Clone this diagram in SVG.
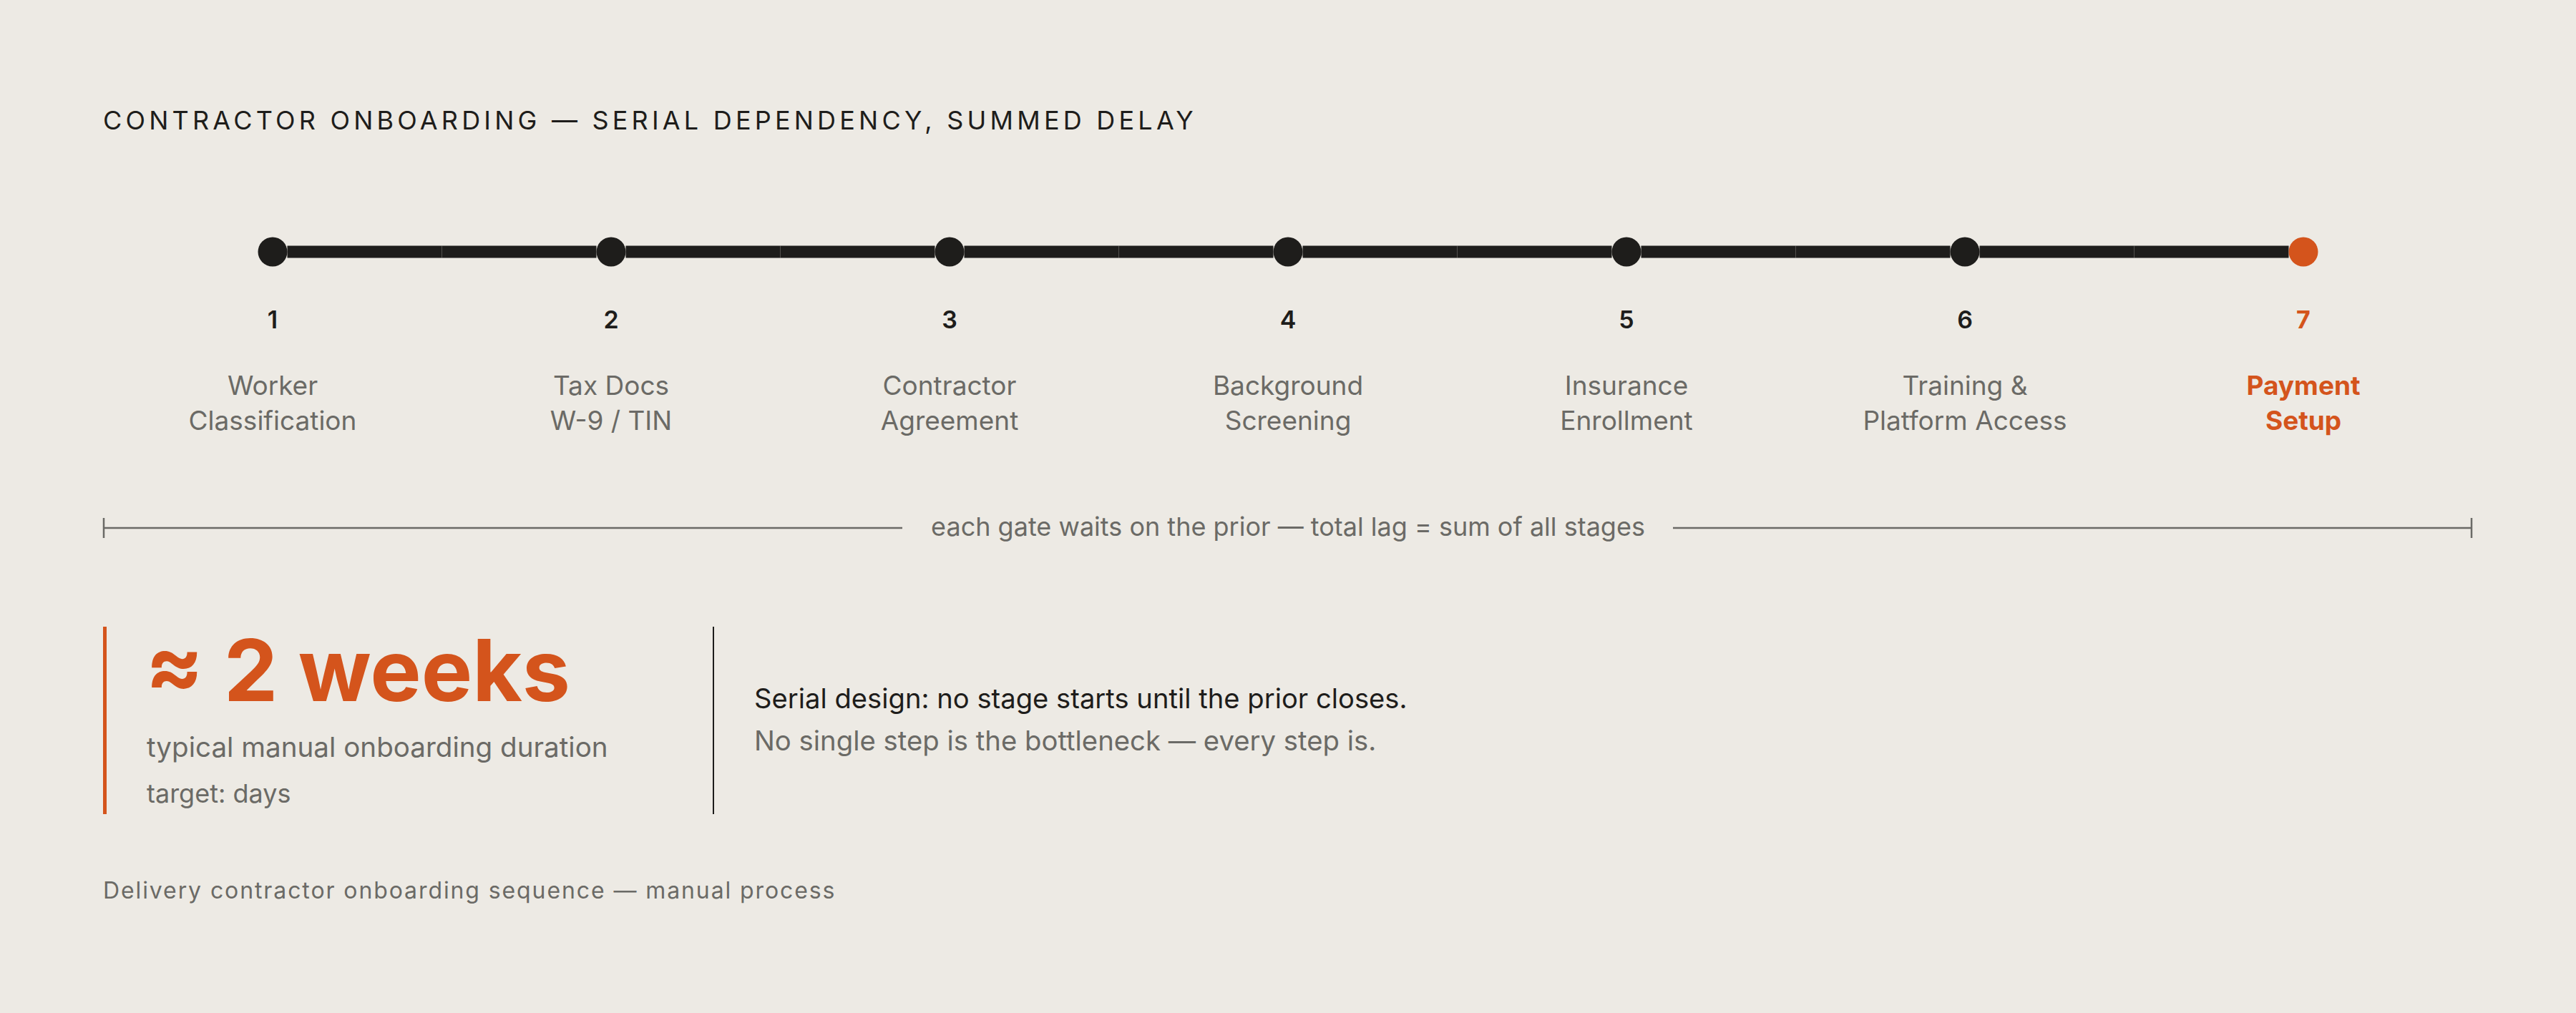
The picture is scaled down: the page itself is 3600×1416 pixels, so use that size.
<svg xmlns="http://www.w3.org/2000/svg" width="3600" height="1416" viewBox="0 0 3600 1416">
  <style>
    text { font-family: Inter, "DejaVu Sans", sans-serif; }
    .title { font-size: 36px; fill: #1e1d1b; letter-spacing: 5.2px; }
    .num { font-size: 34px; font-weight: 600; fill: #1e1d1b; text-anchor: middle; }
    .lbl { font-size: 37px; fill: #6b6a66; text-anchor: middle; }
    .hot { fill: #d4541c; font-weight: 700; }
    .seg { fill: #1e1d1b; }
    .dim { stroke: #6b6a66; stroke-width: 2.5; fill: none; }
    .dimtxt { font-size: 36px; fill: #6b6a66; text-anchor: middle; }
    .big { font-size: 120px; font-weight: 700; fill: #d4541c; }
    .sub { font-size: 38.6px; fill: #6b6a66; }
    .sub2 { font-size: 36px; fill: #6b6a66; }
    .note { font-size: 38.2px; fill: #1e1d1b; }
    .note2 { font-size: 38.3px; fill: #6b6a66; }
    .foot { font-size: 32px; fill: #6b6a66; letter-spacing: 1.9px; }
  </style>
  <rect x="0" y="0" width="3600" height="1416" fill="#edeae4"/>

  <text class="title" x="144" y="181">CONTRACTOR ONBOARDING — SERIAL DEPENDENCY, SUMMED DELAY</text>

  <g id="connectors">
    <rect class="seg" x="401.5" y="343.5" width="216" height="17"/>
    <rect class="seg" x="617.5" y="343.5" width="216" height="17"/>
    <rect class="seg" x="874.5" y="343.5" width="216" height="17"/>
    <rect class="seg" x="1090.5" y="343.5" width="216" height="17"/>
    <rect class="seg" x="1347.5" y="343.5" width="216" height="17"/>
    <rect class="seg" x="1563.5" y="343.5" width="216" height="17"/>
    <rect class="seg" x="1820.5" y="343.5" width="216" height="17"/>
    <rect class="seg" x="2036.5" y="343.5" width="216" height="17"/>
    <rect class="seg" x="2293.5" y="343.5" width="216" height="17"/>
    <rect class="seg" x="2509.5" y="343.5" width="216" height="17"/>
    <rect class="seg" x="2766.5" y="343.5" width="216" height="17"/>
    <rect class="seg" x="2982.5" y="343.5" width="216" height="17"/>
  </g>

  <g id="stage1">
    <circle cx="381" cy="352" r="20.5" fill="#1e1d1b"/>
    <text class="num" x="381" y="459">1</text>
    <text class="lbl" x="381" y="552">Worker</text>
    <text class="lbl" x="381" y="601">Classification</text>
  </g>
  <g id="stage2">
    <circle cx="854" cy="352" r="20.5" fill="#1e1d1b"/>
    <text class="num" x="854" y="459">2</text>
    <text class="lbl" x="854" y="552">Tax Docs</text>
    <text class="lbl" x="854" y="601">W-9 / TIN</text>
  </g>
  <g id="stage3">
    <circle cx="1327" cy="352" r="20.5" fill="#1e1d1b"/>
    <text class="num" x="1327" y="459">3</text>
    <text class="lbl" x="1327" y="552">Contractor</text>
    <text class="lbl" x="1327" y="601">Agreement</text>
  </g>
  <g id="stage4">
    <circle cx="1800" cy="352" r="20.5" fill="#1e1d1b"/>
    <text class="num" x="1800" y="459">4</text>
    <text class="lbl" x="1800" y="552">Background</text>
    <text class="lbl" x="1800" y="601">Screening</text>
  </g>
  <g id="stage5">
    <circle cx="2273" cy="352" r="20.5" fill="#1e1d1b"/>
    <text class="num" x="2273" y="459">5</text>
    <text class="lbl" x="2273" y="552">Insurance</text>
    <text class="lbl" x="2273" y="601">Enrollment</text>
  </g>
  <g id="stage6">
    <circle cx="2746" cy="352" r="20.5" fill="#1e1d1b"/>
    <text class="num" x="2746" y="459">6</text>
    <text class="lbl" x="2746" y="552">Training &amp;</text>
    <text class="lbl" x="2746" y="601">Platform Access</text>
  </g>
  <g id="stage7">
    <circle cx="3219" cy="352" r="20.5" fill="#d4541c"/>
    <text class="num hot" x="3219" y="459">7</text>
    <text class="lbl hot" x="3219" y="552">Payment</text>
    <text class="lbl hot" x="3219" y="601">Setup</text>
  </g>

  <g id="span">
    <line class="dim" x1="144" y1="738" x2="1261" y2="738"/>
    <line class="dim" x1="2338" y1="738" x2="3454" y2="738"/>
    <line class="dim" x1="145" y1="724" x2="145" y2="752"/>
    <line class="dim" x1="3454" y1="724" x2="3454" y2="752"/>
    <text class="dimtxt" x="1800" y="749">each gate waits on the prior — total lag = sum of all stages</text>
  </g>

  <g id="metric">
    <rect x="144" y="876" width="5" height="262" fill="#d4541c"/>
    <text class="big" x="203" y="980">≈ 2 weeks</text>
    <text class="sub" x="205" y="1058">typical manual onboarding duration</text>
    <text class="sub2" x="205" y="1122">target: days</text>
  </g>

  <g id="explanation">
    <rect x="996" y="876" width="2" height="262" fill="#1e1d1b"/>
    <text class="note" x="1054" y="990">Serial design: no stage starts until the prior closes.</text>
    <text class="note2" x="1054" y="1049">No single step is the bottleneck — every step is.</text>
  </g>

  <text class="foot" x="144" y="1256">Delivery contractor onboarding sequence — manual process</text>
</svg>
